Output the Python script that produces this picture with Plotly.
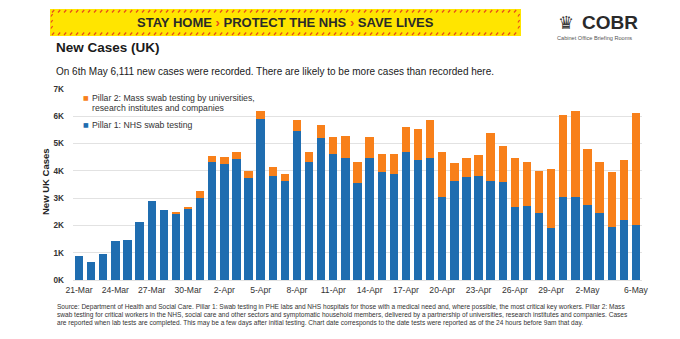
import pandas as pd
import plotly.graph_objects as go

# ---- data -------------------------------------------------------------
dates = pd.date_range("2020-03-21", "2020-05-06").strftime("%-d-%b").tolist()

# Pillar 1: NHS swab testing (new cases per day)
pillar1 = [880, 670, 965, 1440, 1450, 2130, 2900, 2550, 2440, 2610,
           3000, 4320, 4245, 4450, 3730, 5890, 3795, 3635, 5475, 4340,
           5205, 4610, 4465, 3550, 4475, 3965, 3880, 4685, 4400, 4475,
           3025, 3620, 3770, 3830, 3635, 3575, 2685, 2730, 2465, 1890,
           3050, 3050, 2755, 2450, 1925, 2205, 2025]

# Pillar 2: mass swab testing (new cases per day)
pillar2 = [0, 0, 0, 0, 0, 0, 0, 0, 70, 50,
           255, 240, 280, 235, 270, 305, 350, 255, 405, 345,
           490, 620, 815, 790, 770, 635, 740, 915, 1125, 1390,
           1660, 685, 695, 755, 1745, 1350, 1780, 1585, 1535, 2195,
           2985, 3155, 2050, 1890, 2050, 2210, 4086]

tick_labels = ["21-Mar", "24-Mar", "27-Mar", "30-Mar", "2-Apr", "5-Apr",
               "8-Apr", "11-Apr", "14-Apr", "17-Apr", "20-Apr", "23-Apr",
               "26-Apr", "29-Apr", "2-May", "6-May"]
y_ticks = [0, 1000, 2000, 3000, 4000, 5000, 6000, 7000]
y_tick_labels = ["0K", "1K", "2K", "3K", "4K", "5K", "6K", "7K"]

BLUE = "#1f6db0"
ORANGE = "#f8801a"
TEXT = "#333333"
ARIAL = "Liberation Sans, Arial, sans-serif"

# ---- page geometry (pixels) -------------------------------------------
W, H = 680, 339
L, R, T, B = 73, 642, 89, 280  # plotting area


def px(x):
    return (x - L) / (R - L)


def py(y):
    return (B - y) / (B - T)


fig = go.Figure()
fig.add_trace(go.Bar(x=dates, y=pillar1, name="Pillar 1: NHS swab testing",
                     marker=dict(color=BLUE, line=dict(width=0))))
fig.add_trace(go.Bar(x=dates, y=pillar2,
                     name="Pillar 2: Mass swab testing by universities, research institutes and companies",
                     marker=dict(color=ORANGE, line=dict(width=0))))

annotations = []
shapes = []


def note(text, x, y, size, color=TEXT, family=ARIAL, xanchor="left",
         yanchor="middle", angle=0):
    annotations.append(dict(text=text, x=px(x), y=py(y), xref="paper",
                            yref="paper", showarrow=False, xanchor=xanchor,
                            yanchor=yanchor, textangle=angle,
                            font=dict(size=size, color=color, family=family)))


# ---- slogan banner ------------------------------------------------------
BX0, BX1, BY0, BY1 = 50, 521, 9, 36
shapes.append(dict(type="rect", xref="paper", yref="paper",
                   x0=px(BX0), x1=px(BX1), y0=py(BY1), y1=py(BY0),
                   fillcolor="#ffe500", line=dict(width=0), layer="above"))
HATCH = "#e8491d"
xx = BX0 + 2
while xx < BX1 - 3:
    for (ya, yb) in ((12.5, 10), (35, 32.5)):
        shapes.append(dict(type="line", xref="paper", yref="paper",
                           x0=px(xx), y0=py(ya), x1=px(xx + 2.2), y1=py(yb),
                           line=dict(color=HATCH, width=1.2), layer="above"))
    xx += 6
yy = BY0 + 5
while yy < BY1 - 4:
    for xb in (BX0 + 1, BX1 - 3):
        shapes.append(dict(type="line", xref="paper", yref="paper",
                           x0=px(xb), y0=py(yy + 2.5), x1=px(xb + 1.6), y1=py(yy),
                           line=dict(color=HATCH, width=1.2), layer="above"))
    yy += 6

chev = "<span style='color:#e8491d'>›</span>"
note(f"<b>STAY HOME {chev} PROTECT THE NHS {chev} SAVE LIVES</b>",
     285, 22.5, 13, color="#2a2a2a", xanchor="center")

# ---- COBR mark -----------------------------------------------------------
note("♛", 566, 22, 18, color="#3a3a3a", family="DejaVu Sans", xanchor="center")
note("<b>COBR</b>", 580, 22, 19, color="#2a2a2a")
note("Cabinet Office Briefing Rooms", 594.5, 38.5, 5.6, color="#555555",
     xanchor="center")

# ---- headings ------------------------------------------------------------
note("<b>New Cases (UK)</b>", 54, 47.5, 13.5, color="#1a1a1a")
note("On 6th May 6,111 new cases were recorded. There are likely to be more "
     "cases than recorded here.", 54, 71.5, 10, color="#1a1a1a")

# ---- legend ----------------------------------------------------------------
note("■", 85.5, 97.5, 6, color=ORANGE, family="DejaVu Sans", xanchor="center")
note("Pillar 2: Mass swab testing by universities,", 89.5, 97.5, 8.7, color=TEXT)
note("research institutes and companies", 89.5, 107.5, 8.7, color=TEXT)
note("■", 85.5, 124.5, 6, color=BLUE, family="DejaVu Sans", xanchor="center")
note("Pillar 1: NHS swab testing", 89.5, 124.5, 8.7, color=TEXT)

# ---- axis title ------------------------------------------------------------
note("<b>New UK Cases</b>", 45, 182, 9.5, color="#222222", xanchor="center",
     angle=-90)

# ---- source note -------------------------------------------------------------
footer = [
    "Source: Department of Health and Social Care. Pillar 1: Swab testing in PHE labs and NHS hospitals for those with a medical need and, where possible, the most critical key workers. Pillar 2: Mass",
    "swab testing for critical workers in the NHS, social care and other sectors and symptomatic household members, delivered by a partnership of universities, research institutes and companies. Cases",
    "are reported when lab tests are completed. This may be a few days after initial testing. Chart date corresponds to the date tests were reported as of the 24 hours before 9am that day.",
]
for i, line in enumerate(footer):
    note(line, 55, 307 + 8 * i, 6.55, color="#333333")

fig.update_layout(
    width=W, height=H,
    margin=dict(l=L, r=W - R, t=T, b=H - B, autoexpand=False),
    paper_bgcolor="white", plot_bgcolor="white",
    barmode="stack", bargap=0.31,
    showlegend=False,
    annotations=annotations, shapes=shapes,
    xaxis=dict(type="category", tickmode="array", tickvals=tick_labels,
               ticktext=tick_labels, showgrid=False, zeroline=False,
               showline=False, ticks="", ticklabelstandoff=3,
               tickfont=dict(size=8.6, color=TEXT, family=ARIAL)),
    yaxis=dict(range=[0, 7000], tickmode="array", tickvals=y_ticks,
               ticktext=y_tick_labels, showgrid=True, gridcolor="#e2e2e2",
               gridwidth=1, zeroline=True, zerolinecolor="#e2e2e2",
               zerolinewidth=1, showline=False, ticks="",
               ticklabelstandoff=8,
               tickfont=dict(size=8.2, color=TEXT, family=ARIAL, weight="bold")),
)

fig.write_html("out.html")
